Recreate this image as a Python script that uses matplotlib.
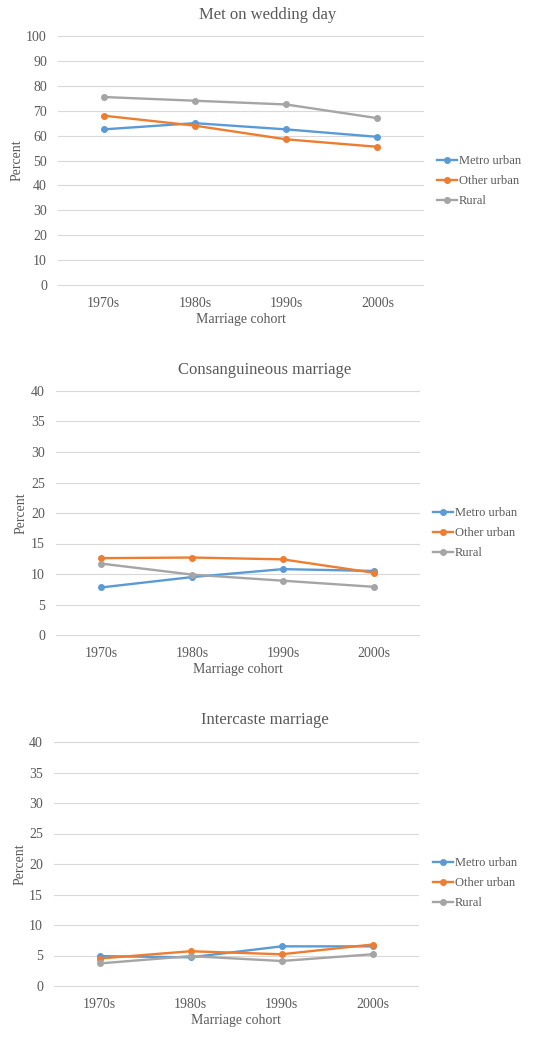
import matplotlib
matplotlib.use("Agg")
import matplotlib.pyplot as plt

cohorts = ["1970s", "1980s", "1990s", "2000s"]
series_names = ["Metro urban", "Other urban", "Rural"]

met_metro = [62.5, 65.0, 62.5, 59.5]
met_other = [68.0, 64.0, 58.5, 55.5]
met_rural = [75.5, 74.0, 72.5, 67.0]

cons_metro = [7.8, 9.5, 10.8, 10.5]
cons_other = [12.6, 12.7, 12.4, 10.2]
cons_rural = [11.7, 9.9, 8.9, 7.9]

inter_metro = [4.9, 4.7, 6.5, 6.5]
inter_other = [4.5, 5.7, 5.2, 6.8]
inter_rural = [3.7, 4.9, 4.1, 5.2]

titles = ["Met on wedding day", "Consanguineous marriage", "Intercaste marriage"]
ylims = [(0, 100, 10), (0, 40, 5), (0, 40, 5)]

colors = ["#5b9bd5", "#ed7d31", "#a5a5a5"]
text_color = "#595959"
grid_color = "#d9d9d9"

plt.rcParams['font.family'] = ['Liberation Serif', 'DejaVu Serif']

W, H = 537, 1040
fig = plt.figure(figsize=(W / 100, H / 100), dpi=100)

# axes rectangles in pixels: left, right, top, bottom
rects = [(58, 423, 36, 285), (56, 419, 391, 635), (54, 418, 742, 986)]
title_pos = [(268, 15), (265, 370), (265, 720)]
legend_pos = [(437, 181), (433, 533), (433, 883)]
ylabel_x = [18, 22, 21]
data = [
    (met_metro, met_other, met_rural),
    (cons_metro, cons_other, cons_rural),
    (inter_metro, inter_other, inter_rural),
]

for i, ((l, r, t, b), title, (y0, y1, step), vals) in enumerate(zip(rects, titles, ylims, data)):
    ax = fig.add_axes([l / W, 1 - b / H, (r - l) / W, (b - t) / H])
    x = list(range(len(cohorts)))
    for v, name, c in zip(vals, series_names, colors):
        ax.plot(x, v, color=c, lw=1.7, marker="o", ms=4, label=name, clip_on=False, zorder=3)
    ax.set_xlim(-0.5, len(cohorts) - 0.5)
    ax.set_ylim(y0, y1)
    ticks = list(range(y0, y1 + 1, step))
    ax.set_yticks(ticks)
    for tk in ticks:
        ax.axhline(tk, color=grid_color, lw=0.8, clip_on=False, zorder=1)
    ax.set_xticks(x)
    ax.set_xticklabels(cohorts)
    for s in ax.spines.values():
        s.set_visible(False)
    ax.tick_params(axis="y", length=0, labelsize=10, colors=text_color, pad=8)
    ax.tick_params(axis="x", length=0, labelsize=10, colors=text_color, pad=8.5)
    tx, ty = title_pos[i]
    fig.text(tx / W, 1 - ty / H, title, color=text_color, fontsize=12,
             ha="center", va="center")
    ax.set_xlabel("Marriage cohort", color=text_color, fontsize=10, labelpad=2)
    ax.set_ylabel("Percent", color=text_color, fontsize=10)
    ax.yaxis.set_label_coords((ylabel_x[i] + 6 - l) / (r - l), 0.5)
    lx, ly = legend_pos[i]
    leg = ax.legend(loc="center left", bbox_to_anchor=(lx / W, 1 - ly / H),
                    bbox_transform=fig.transFigure, frameon=False,
                    fontsize=9, handlelength=1.6, handletextpad=0.15,
                    labelspacing=0.65, borderaxespad=0, borderpad=0)
    for txt in leg.get_texts():
        txt.set_color(text_color)

fig.savefig("out.png", dpi=100, facecolor="white")
